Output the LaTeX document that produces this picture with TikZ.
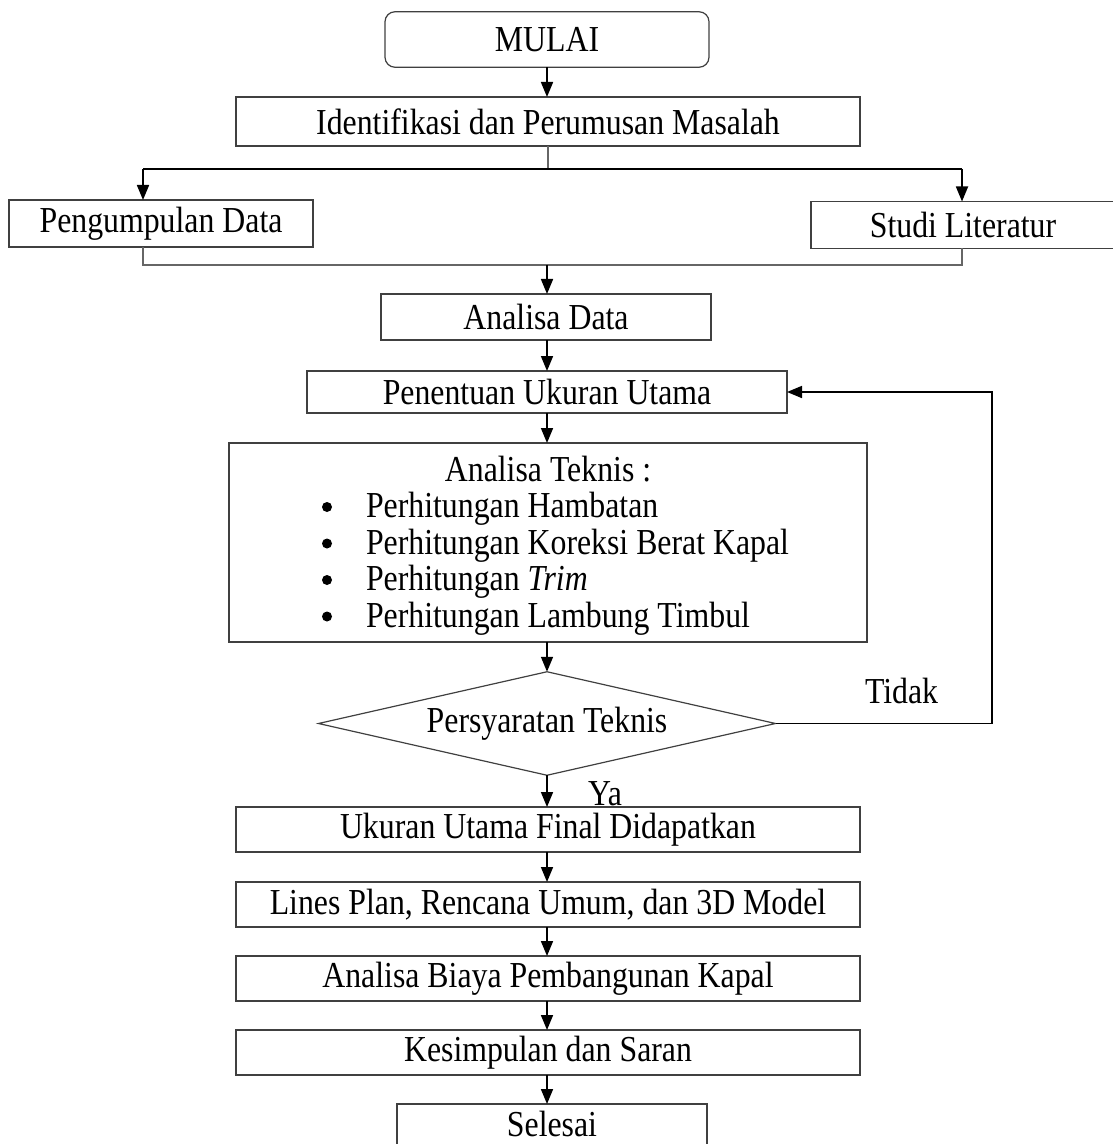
\documentclass[tikz,border=0pt]{standalone}
\usepackage{graphicx}
\usepackage{fontspec}
\setmainfont{Liberation Serif}
\usetikzlibrary{arrows.meta,shapes.geometric}
\newcommand\fs{\fontsize{15.9}{19}\selectfont}
\newcommand\vs[1]{\scalebox{1}[1.15]{#1}}
\tikzset{
  box/.style={draw=black!75, line width=0.6pt, inner sep=0pt, outer sep=0pt, align=center, font=\fs},
  boxline/.style={draw=black!75, line width=0.6pt},
  lbl/.style={font=\fs, inner sep=0pt, outer sep=0pt},
  arr/.style={line width=0.85pt, -{Triangle[length=7.5pt,width=6pt]}},
  thinline/.style={draw=black!60, line width=0.6pt},
  thickline/.style={line width=0.85pt},
}
\begin{document}
\begin{tikzpicture}[x=0.5pt,y=-0.5pt]
\useasboundingbox (0,0) rectangle (1112,1144);

% nodes
\node[box, rounded corners=5pt, minimum width=162pt, minimum height=27.75pt] (mulai) at (547,39.5) {\vs{MULAI}};
\node[box, minimum width=312pt, minimum height=24.5pt] (ident) at (548,121.5) {\vs{Identifikasi dan Perumusan Masalah}};
\node[box, minimum width=152pt, minimum height=23.5pt] (kumpul) at (161,223.5) {\vs{Pengumpulan Data}};
\node[box, minimum width=152pt, minimum height=23.5pt] (studi) at (963,225) {\vs{Studi Literatur}};
\node[box, minimum width=165pt, minimum height=23pt] (anadata) at (546,317) {\vs{Analisa Data}};
\node[box, minimum width=240pt, minimum height=21pt] (tentu) at (547,392) {\vs{Penentuan Ukuran Utama}};
\node[box, minimum width=319pt, minimum height=99.5pt] (teknis) at (548,542.5) {};
\node[lbl, anchor=base] (tk0) at (548,481) {\vs{Analisa Teknis :}};
\node[lbl, anchor=base west] (tk1) at (366,517.5) {\vs{Perhitungan Hambatan}};
\node[lbl, anchor=base west] (tk2) at (366,554) {\vs{Perhitungan Koreksi Berat Kapal}};
\node[lbl, anchor=base west] (tk3) at (366,590.5) {\vs{Perhitungan \textit{Trim}}};
\node[lbl, anchor=base west] (tk4) at (366,627) {\vs{Perhitungan Lambung Timbul}};
\fill (327,507) circle (2.5pt);
\fill (327,543.5) circle (2.5pt);
\fill (327,580) circle (2.5pt);
\fill (327,616.5) circle (2.5pt);
\node[box, diamond, aspect=4.4, minimum width=228.5pt, minimum height=51.75pt] (syarat) at (547,723.5) {\vs{Persyaratan Teknis}};
\node[box, minimum width=312pt, minimum height=22.5pt] (final) at (548,829.5) {\vs{Ukuran Utama Final Didapatkan}};
\node[box, minimum width=312pt, minimum height=22.5pt] (lines) at (548,904.5) {\vs{Lines Plan, Rencana Umum, dan 3D Model}};
\node[box, minimum width=312pt, minimum height=22.5pt] (biaya) at (548,978.5) {\vs{Analisa Biaya Pembangunan Kapal}};
\node[box, minimum width=312pt, minimum height=22.5pt] (kesim) at (548,1052.5) {\vs{Kesimpulan dan Saran}};
\node[lbl, minimum width=155pt, minimum height=20pt] (selesai) at (552,1124) {\vs{Selesai}};
\draw[boxline] ([yshift=-3pt]selesai.south west) |- (selesai.north east) -- ([yshift=-3pt]selesai.south east);
\node[lbl, anchor=base west] (tidak) at (865,703) {\vs{Tidak}};
\node[lbl, anchor=base west] (ya) at (588,805) {\vs{Ya}};

% connectors
\coordinate (col) at (547,0);
\draw[arr] (mulai.south -| col) -- (ident.north -| col);
\coordinate (j) at (548,169);
\draw[thinline] (ident.south -| j) -- (j);
\coordinate (jl) at (143,169);
\coordinate (jr) at (962,169);
\draw[thickline] (jl) -- (jr);
\draw[arr] (jl) -- (jl |- kumpul.north);
\draw[arr] (jr) -- (jr |- studi.north);
\coordinate (ml) at (143,265);
\coordinate (mr) at (962,265);
\coordinate (mc) at (547,265);
\draw[thinline] (ml |- kumpul.south) -- (ml) -- (mr) -- (mr |- studi.south);
\draw[arr] (mc) -- (mc |- anadata.north);
\draw[arr] (anadata.south -| col) -- (tentu.north -| col);
\draw[arr] (tentu.south -| col) -- (teknis.north -| col);
\draw[arr] (teknis.south -| col) -- (syarat.north -| col);
\draw[arr] (syarat.south -| col) -- (final.north -| col);
\draw[arr] (final.south -| col) -- (lines.north -| col);
\draw[arr] (lines.south -| col) -- (biaya.north -| col);
\draw[arr] (biaya.south -| col) -- (kesim.north -| col);
\draw[arr] (kesim.south -| col) -- (selesai.north -| col);
\coordinate (lp) at (992,723.5);
\draw[arr] (syarat.east) -- (syarat.east -| lp) |- (tentu.east);
\end{tikzpicture}
\end{document}
